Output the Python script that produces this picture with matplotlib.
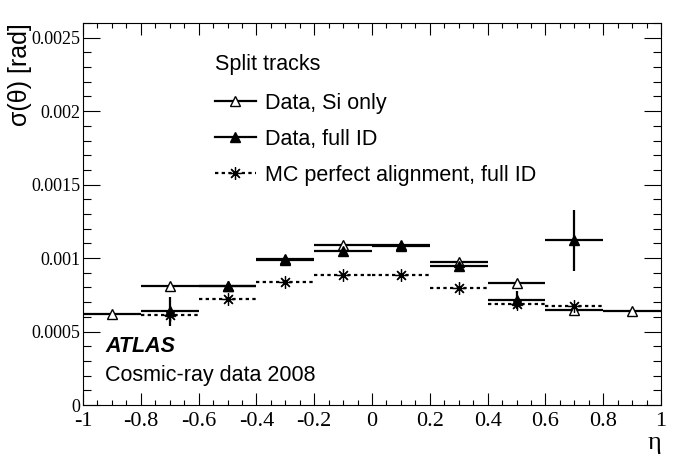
import matplotlib
matplotlib.use("Agg")
import matplotlib.pyplot as plt
from matplotlib.lines import Line2D
from matplotlib.ticker import MultipleLocator, FuncFormatter
import numpy as np

# --- DATA ---
bin_edges = [-1.0, -0.8, -0.6, -0.4, -0.2, 0.0, 0.2, 0.4, 0.6, 0.8, 1.0]

# Data, Si only: all ten bins
si_only = [0.000616, 0.000808, 0.000812, 0.000995, 0.001087,
           0.00109, 0.000976, 0.000829, 0.000645, 0.000638]

# Data, full ID: bins -0.8 .. 0.8
full_id = [0.000638, 0.000808, 0.00099, 0.001046,
           0.00108, 0.000944, 0.000716, 0.00112]
full_id_err = [0.0001, 0.00001, 0.00001, 0.00001,
               0.00001, 0.00001, 0.00006, 0.00021]

# MC perfect alignment, full ID: bins -0.8 .. 0.8
mc_perfect = [0.000611, 0.000722, 0.000835, 0.000883,
              0.000888, 0.000793, 0.000686, 0.000672]

labels = ["Data, Si only", "Data, full ID", "MC perfect alignment, full ID"]

# --- STYLE ---
plt.rcParams['axes.unicode_minus'] = False
SERIF = 'Liberation Serif'
SANS = 'Liberation Sans'
LW = 1.6
MS = 7.5
DOTS = (0, (1.5, 1.5))
STAR = (8, 2, 0)


def tick_fmt(v, pos):
    # ROOT-like labels: 0, 0.2, -0.8, 0.0005 ...
    v = round(v, 6)
    if v == 0:
        return "0"
    return "%g" % v


edges = np.array(bin_edges)
centers = 0.5 * (edges[:-1] + edges[1:])
half = 0.5 * np.diff(edges)

fig = plt.figure(figsize=(6.96, 4.72), dpi=100)
ax = fig.add_axes([83 / 696, (472 - 405) / 472, 578 / 696, 382 / 472])

# Si only
ax.errorbar(centers, si_only, xerr=half, fmt='^', color='black',
            mfc='white', mec='black', ms=MS, elinewidth=LW, capsize=0, zorder=3)
# full ID
ax.errorbar(centers[1:-1], full_id, xerr=half[1:-1], yerr=full_id_err,
            fmt='^', color='black', ms=MS, elinewidth=LW, capsize=0, zorder=4)
# MC perfect alignment (dotted bars)
mc = ax.errorbar(centers[1:-1], mc_perfect, xerr=half[1:-1], fmt='none',
                 ecolor='black', elinewidth=LW, capsize=0, zorder=2)
mc[2][0].set_linestyle(DOTS)
ax.plot(centers[1:-1], mc_perfect, linestyle='none', marker=STAR,
        ms=MS + 1.5, mec='black', mew=0.9, zorder=5)

ax.set_xlim(-1, 1)
ax.set_ylim(0, 0.0026)

ax.xaxis.set_major_locator(MultipleLocator(0.2))
ax.xaxis.set_minor_locator(MultipleLocator(0.05))
ax.yaxis.set_major_locator(MultipleLocator(0.0005))
ax.yaxis.set_minor_locator(MultipleLocator(0.0001))
ax.xaxis.set_major_formatter(FuncFormatter(tick_fmt))
ax.yaxis.set_major_formatter(FuncFormatter(tick_fmt))

ax.tick_params(which='both', direction='in', top=True, right=True, width=0.8)
ax.tick_params(axis='x', which='major', length=8.6, pad=5, labelsize=16)
ax.tick_params(axis='x', which='minor', length=3.6)
ax.tick_params(axis='y', which='major', length=12.2, pad=2, labelsize=13)
ax.tick_params(axis='y', which='minor', length=5.8)
for lab in ax.get_xticklabels() + ax.get_yticklabels():
    lab.set_fontfamily(SERIF)
for sp in ax.spines.values():
    sp.set_linewidth(0.8)

# axis titles, ROOT style
fig.text(20 / 696, 1 - 23 / 472, "σ(θ) [rad]", rotation=90, ha='center',
         va='top', fontsize=18, family=SANS)
fig.text(661 / 696, 1 - 443 / 472, "η", ha='right', va='center',
         fontsize=19, family=SERIF)

# legend
handles = [
    Line2D([], [], color='black', lw=LW, marker='^', mfc='white', ms=MS),
    Line2D([], [], color='black', lw=LW, marker='^', ms=MS),
    Line2D([], [], color='black', lw=LW, linestyle=DOTS, marker=STAR,
           ms=MS + 1.5, mew=0.9),
]
leg = ax.legend(handles, labels, title="Split tracks", alignment='left',
                loc='upper left', bbox_to_anchor=(0.228, 0.92),
                frameon=False, borderpad=0, borderaxespad=0,
                handlelength=1.9, handletextpad=0.42, labelspacing=0.7,
                prop={'family': SANS, 'size': 15.5},
                title_fontproperties={'family': SANS, 'size': 15.5})
leg._legend_box.sep = 13  # a little more room under the title

# ATLAS label
ax.text(0.038, 0.154, "ATLAS", transform=ax.transAxes, ha='left',
        va='center', fontsize=15.5, family=SANS, weight='bold', style='italic')
ax.text(0.038, 0.0785, "Cosmic-ray data 2008", transform=ax.transAxes,
        ha='left', va='center', fontsize=15.5, family=SANS)

fig.savefig("out.png", dpi=100)
